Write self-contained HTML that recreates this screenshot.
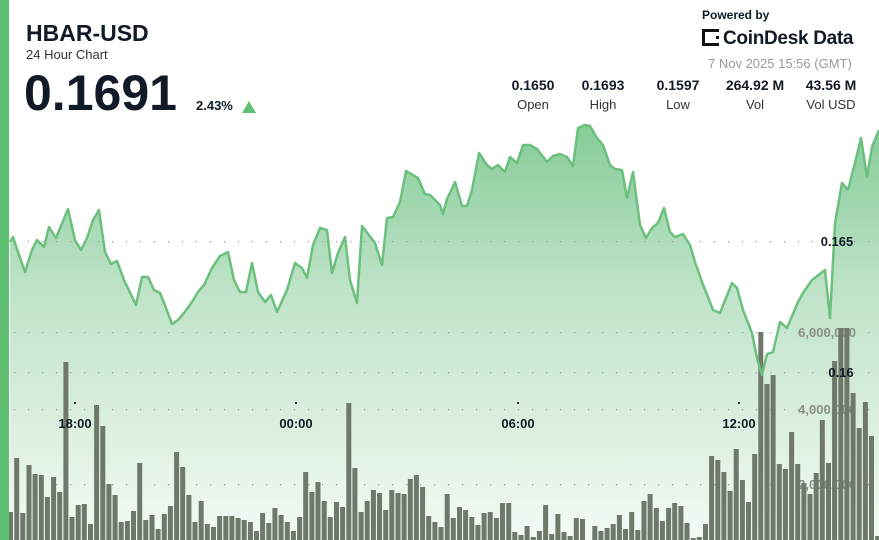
<!DOCTYPE html>
<html><head><meta charset="utf-8"><style>
html,body{margin:0;padding:0;background:#fff;}
body{width:879px;height:540px;position:relative;overflow:hidden;font-family:"Liberation Sans",sans-serif;}
svg{position:absolute;left:0;top:0;}
.t{position:absolute;color:#111a26;}
</style></head><body>
<svg width="879" height="540" viewBox="0 0 879 540">
<defs>
<linearGradient id="g" x1="0" y1="125" x2="0" y2="540" gradientUnits="userSpaceOnUse">
<stop offset="0" stop-color="#86cc98"/>
<stop offset="0.4" stop-color="#bfe3c8"/>
<stop offset="1" stop-color="#f3faf4"/>
</linearGradient>
</defs>
<polygon id="area" fill="url(#g)" points=""/>
<g id="grid" fill="#999"></g>
<g font-family="Liberation Sans" font-weight="bold" font-size="13" fill="#8a8f88" text-anchor="end">
<text x="856" y="337">6,000,000</text>
<text x="856" y="414">4,000,000</text>
<text x="856" y="489">2,000,000</text>
</g>
<g id="bars" fill="#6e786b"></g>
<polyline id="line" fill="none" stroke="#6cc07e" stroke-width="2.5" stroke-linejoin="round" points=""/>
<g font-family="Liberation Sans" font-weight="bold" font-size="13" fill="#111a26" text-anchor="middle">
<text x="75" y="428">18:00</text>
<text x="296" y="428">00:00</text>
<text x="518" y="428">06:00</text>
<text x="739" y="428">12:00</text>
<text x="837" y="246">0.165</text>
<text x="841" y="377">0.16</text>
</g>
<rect x="0" y="0" width="9" height="540" fill="#5fbf72"/>
</svg>
<div class="t" style="left:26px;top:20px;font-size:23px;font-weight:bold;">HBAR-USD</div>
<div class="t" style="left:26px;top:47px;font-size:13px;color:#333;">24 Hour Chart</div>
<div class="t" style="left:24px;top:64px;font-size:50px;font-weight:bold;letter-spacing:0px;">0.1691</div>
<div class="t" style="left:196px;top:98px;font-size:13px;font-weight:bold;">2.43%</div>
<div style="position:absolute;left:242px;top:101px;width:0;height:0;border-left:7px solid transparent;border-right:7px solid transparent;border-bottom:12px solid #5fbf72;"></div>
<div class="t" style="left:702px;top:8px;font-size:12px;font-weight:bold;">Powered by</div>
<div class="t" style="left:702px;top:28px;font-size:19px;font-weight:bold;letter-spacing:-0.3px;"><span style="display:inline-block;width:17px;height:17px;border:3px solid #111;border-right:3px dotted #111;box-sizing:border-box;vertical-align:-2px;margin-right:4px;"></span>CoinDesk Data</div>
<div class="t" style="left:708px;top:56px;font-size:13px;color:#999;">7 Nov 2025 15:56 (GMT)</div>
<div class="t" style="left:500px;top:77px;width:66px;text-align:center;font-size:14px;font-weight:bold;">0.1650</div>
<div class="t" style="left:500px;top:97px;width:66px;text-align:center;font-size:13px;color:#333;">Open</div>
<div class="t" style="left:570px;top:77px;width:66px;text-align:center;font-size:14px;font-weight:bold;">0.1693</div>
<div class="t" style="left:570px;top:97px;width:66px;text-align:center;font-size:13px;color:#333;">High</div>
<div class="t" style="left:645px;top:77px;width:66px;text-align:center;font-size:14px;font-weight:bold;">0.1597</div>
<div class="t" style="left:645px;top:97px;width:66px;text-align:center;font-size:13px;color:#333;">Low</div>
<div class="t" style="left:712px;top:77px;width:86px;text-align:center;font-size:14px;font-weight:bold;">264.92 M</div>
<div class="t" style="left:712px;top:97px;width:86px;text-align:center;font-size:13px;color:#333;">Vol</div>
<div class="t" style="left:796px;top:77px;width:70px;text-align:center;font-size:14px;font-weight:bold;">43.56 M</div>
<div class="t" style="left:796px;top:97px;width:70px;text-align:center;font-size:13px;color:#333;">Vol USD</div>
<script>
var pts=[[10,242],[13,237],[18,252],[25,272],[32,250],[37,240],[44,247],[49,227],[56,238],[68,209],[75,240],[81,250],[87,238],[93,220],[99,210],[105,252],[111,264],[117,261],[124,280],[136,305],[142,277],[148,277],[154,290],[160,293],[166,308],[172,324],[178,320],[184,313],[192,302],[198,292],[204,285],[212,268],[220,256],[228,252],[234,280],[240,292],[246,292],[252,263],[258,292],[265,302],[271,295],[277,312],[287,290],[295,263],[302,268],[307,278],[313,245],[320,228],[327,230],[332,273],[338,253],[345,237],[350,280],[357,303],[362,226],[375,243],[382,265],[387,218],[393,217],[400,202],[406,171],[418,178],[425,194],[430,195],[440,205],[443,214],[447,199],[455,182],[462,206],[467,206],[472,190],[479,153],[487,165],[492,169],[498,165],[505,172],[510,157],[517,163],[523,145],[530,145],[537,149],[547,162],[553,156],[560,154],[567,157],[573,166],[578,128],[585,125],[590,126],[597,138],[603,145],[610,165],[615,169],[622,170],[627,198],[633,172],[640,225],[646,238],[652,228],[658,223],[664,208],[670,232],[675,237],[683,234],[690,245],[695,262],[702,282],[708,297],[713,310],[720,313],[732,283],[737,288],[743,310],[752,333],[757,358],[762,375],[767,354],[773,352],[780,322],[787,328],[798,302],[803,293],[812,280],[825,270],[830,318],[835,223],[842,183],[848,190],[855,163],[861,138],[867,177],[872,147],[879,130]];
var s=pts.map(p=>p.join(',')).join(' ');
document.getElementById('line').setAttribute('points',s);
document.getElementById('area').setAttribute('points',s+' 879,540 10,540');
var tops=[512,458,513,465,474,475,497,477,492,362,517,505,504,524,405,426,484,495,522,521,511,463,520,515,529,514,506,452,467,495,522,501,524,527,516,516,516,518,520,522,531,513,523,508,515,522,531,517,472,492,482,501,517,502,507,403,468,512,501,490,493,510,490,493,494,479,475,487,516,522,527,
494,518,507,510,517,525,513,512,518,503,503,532,535,526,537,531,505,534,514,532,536,518,519,540,526,531,528,524,515,529,512,530,501,494,508,521,508,503,506,523,538,537,524,456,460,472,491,449,480,502,454,332,384,375,464,469,432,464,483,494,473,420,463,361,328,328,393,428,402,436,536];
var b='';var n=tops.length;
for(var i=0;i<n;i++){var x=8+i*6.15;b+='<rect x="'+x.toFixed(1)+'" y="'+tops[i]+'" width="5" height="'+(540-tops[i])+'"/>';}
document.getElementById('bars').innerHTML=b;
var g='';[241,332,372,409,484].forEach(function(y){for(var x=14;x<879;x+=14)g+='<rect x="'+x+'" y="'+y+'" width="1.2" height="1.2"/>';});
[75,296,518,739].forEach(function(x){g+='<rect x="'+(x-1)+'" y="402" width="2" height="2" fill="#333"/>';});
document.getElementById('grid').innerHTML=g;
</script>
</body></html>
